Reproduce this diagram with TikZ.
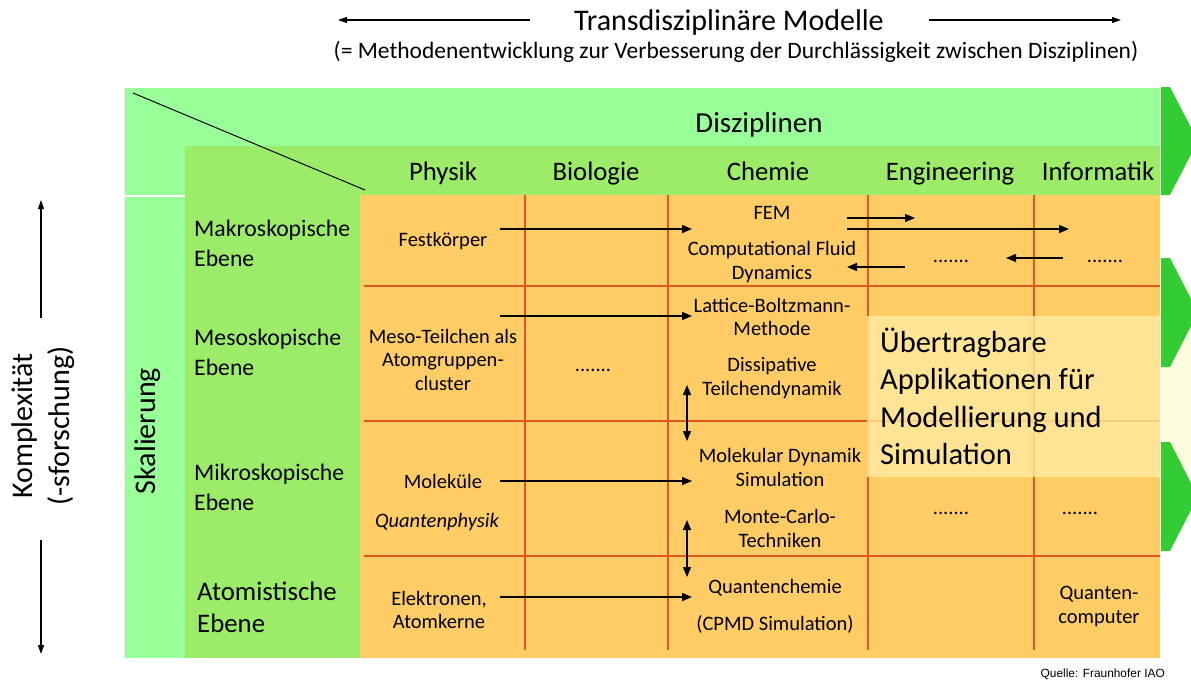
\documentclass[tikz,border=0pt]{standalone}
\usepackage{fontspec}
\setmainfont{Carlito}
\newfontfamily\quellefont{Liberation Sans}
\usetikzlibrary{arrows.meta}

\definecolor{hdrgreen}{HTML}{99FF99}
\definecolor{lvlgreen}{HTML}{9CEC6A}
\definecolor{cellorange}{HTML}{FFCC66}
\definecolor{gridred}{HTML}{E2571E}
\definecolor{arrowgreen}{HTML}{33CC33}
\definecolor{boxyellow}{HTML}{FFEAA3}
\definecolor{paleyellow}{HTML}{FFFCE0}

\newcommand\fsz[2]{\fontsize{#1}{#2}\selectfont}

\begin{document}
\begin{tikzpicture}[x=1pt,y=-1pt,
  txt/.style={inner sep=0pt, align=center, text=black},
  cell/.style={txt, font=\fsz{20.5}{23.5}},
  lvl/.style={inner sep=0pt, align=left, anchor=west, font=\fsz{23.7}{30}},
  head/.style={txt, anchor=base, font=\fsz{26.7}{32}},
  flow/.style={-{Triangle[length=10pt,width=8pt]}, line width=1.4pt},
  twoway/.style={{Triangle[length=10pt,width=8pt]}-{Triangle[length=10pt,width=8pt]}, line width=1.4pt},
  axis/.style={-{Triangle[length=9pt,width=6pt]}, line width=1.2pt},
  gridline/.style={draw=gridred, line width=1.2pt},
  chevron/.style={fill=arrowgreen}
]
\useasboundingbox (0,0) rectangle (1191,681);

% background areas
\fill[hdrgreen] (125,88) rectangle (1160,195);
\fill[hdrgreen] (125,197) rectangle (185,658);
\fill[lvlgreen] (185,146) rectangle (1160,195);
\fill[lvlgreen] (185,195) rectangle (360,658);
\fill[cellorange] (360,195) rectangle (1160,658);

% grid of the matrix
\foreach \yy in {286,421,556} \draw[gridline] (364,\yy) -- (1160,\yy);
\foreach \xx in {525,668,868,1034} \draw[gridline] (\xx,195) -- (\xx,650);

% corner diagonal
\draw[line width=1pt] (133,93) -- (365,190);

% side area and green chevrons
\fill[paleyellow] (1161,290) rectangle (1191,468);
\fill[chevron] (1161,87) -- (1170,87) -- (1198,141) -- (1170,195) -- (1161,195) -- cycle;
\fill[chevron] (1161,258) -- (1170,258) -- (1198,312.5) -- (1170,367) -- (1161,367) -- cycle;
\fill[chevron] (1161,442) -- (1170,442) -- (1198,496.5) -- (1170,551) -- (1161,551) -- cycle;

% highlighted applications box
\fill[boxyellow, opacity=0.8] (867,316) rectangle (1160,477);
\node[inner sep=0pt, align=left, anchor=west, font=\fsz{30.5}{37.5}] (appl) at (880,396.5)
  {Übertragbare\\Applikationen für\\Modellierung und\\Simulation};

% title
\node[txt, anchor=base, font=\fsz{30}{36}] (title) at (729,30) {Transdisziplinäre Modelle};
\node[txt, anchor=base, font=\fsz{23.5}{28}] (subtitle) at (736,58)
  {(= Methodenentwicklung zur Verbesserung der Durchlässigkeit zwischen Disziplinen)};
\coordinate (tl0) at (530,20);
\coordinate (tl1) at (338,20);
\coordinate (tr0) at (929,20);
\coordinate (tr1) at (1121,20);
\draw[axis] (tl0) -- (tl1);
\draw[axis] (tr0) -- (tr1);

% headers
\node[txt, anchor=base, font=\fsz{29}{34}] (disz) at (759,132) {Disziplinen};
\node[head] (physik) at (443,180) {Physik};
\node[head] (bio) at (596,180) {Biologie};
\node[head] (chem) at (768,180) {Chemie};
\node[head] (eng) at (950,180) {Engineering};
\node[head] (inf) at (1098,180) {Informatik};

% levels
\node[lvl] (makro) at (194,243) {Makroskopische\\Ebene};
\node[lvl] (meso) at (194,352.5) {Mesoskopische\\Ebene};
\node[lvl] (mikro) at (194,487.5) {Mikroskopische\\Ebene};
\node[lvl, font=\fsz{26.8}{32}] (atom) at (197,607) {Atomistische\\Ebene};
\node[txt, rotate=90, font=\fsz{30}{35}] (skal) at (148,431) {Skalierung};

% complexity axis
\node[txt, rotate=90, font=\fsz{30}{37}] (kompl) at (43,426) {Komplexität\\(-sforschung)};
\coordinate (ku0) at (41,318);
\coordinate (ku1) at (41,200);
\coordinate (kd0) at (41,540);
\coordinate (kd1) at (41,654);
\draw[axis] (ku0) -- (ku1);
\draw[axis] (kd0) -- (kd1);

% cell contents
\node[cell] (fest) at (443,241) {Festkörper};
\node[cell] (fem) at (772,213) {FEM};
\node[cell] (cfd) at (772,262) {Computational Fluid\\Dynamics};
\node[cell] (engdots1) at (951,261) {.......};
\node[cell] (infdots1) at (1105,261) {.......};
\node[cell] (mesot) at (443,359.5) {Meso-Teilchen als\\Atomgruppen-\\cluster};
\node[cell] (biodots) at (593,370) {.......};
\node[cell] (lbm) at (772,317) {Lattice-Boltzmann-\\Methode};
\node[cell] (dpd) at (772,378) {Dissipative\\Teilchendynamik};
\node[cell] (molek) at (443,481) {Moleküle};
\node[cell, font=\fsz{20.5}{23.5}\itshape] (qphys) at (437,522) {Quantenphysik};
\node[cell] (md) at (780,467.5) {Molekular Dynamik\\Simulation};
\node[cell] (mc) at (780,528.5) {Monte-Carlo-\\Techniken};
\node[cell] (engdots2) at (951,513) {.......};
\node[cell] (infdots2) at (1080,513) {.......};
\node[cell] (elek) at (439,610) {Elektronen,\\Atomkerne};
\node[cell] (qchem) at (775,588) {Quantenchemie};
\node[cell] (cpmd) at (775,624) {(CPMD Simulation)};
\node[cell] (qcomp) at (1099,606.5) {Quanten-\\computer};

% transfer arrows
\coordinate (a1s) at (500,229);   \coordinate (a1e) at (692,229);
\coordinate (a2s) at (847,218);   \coordinate (a2e) at (915,218);
\coordinate (a3s) at (847,229);   \coordinate (a3e) at (1069,229);
\coordinate (a4s) at (905,267);   \coordinate (a4e) at (847,267);
\coordinate (a5s) at (1063,258);  \coordinate (a5e) at (1006,258);
\coordinate (a6s) at (500,316);   \coordinate (a6e) at (692,316);
\coordinate (a7s) at (687,385);   \coordinate (a7e) at (687,441);
\coordinate (a8s) at (500,481);   \coordinate (a8e) at (692,481);
\coordinate (a9s) at (687,520);   \coordinate (a9e) at (687,577);
\coordinate (a10s) at (500,597);  \coordinate (a10e) at (692,597);
\draw[flow] (a1s) -- (a1e);
\draw[flow] (a2s) -- (a2e);
\draw[flow] (a3s) -- (a3e);
\draw[flow] (a4s) -- (a4e);
\draw[flow] (a5s) -- (a5e);
\draw[flow] (a6s) -- (a6e);
\draw[twoway] (a7s) -- (a7e);
\draw[flow] (a8s) -- (a8e);
\draw[twoway] (a9s) -- (a9e);
\draw[flow] (a10s) -- (a10e);

% source note
\node[inner sep=0pt, anchor=east, font=\quellefont\fsz{11.9}{14}] (quelle) at (1165,674) {Quelle: Fraunhofer IAO};
\end{tikzpicture}
\end{document}
